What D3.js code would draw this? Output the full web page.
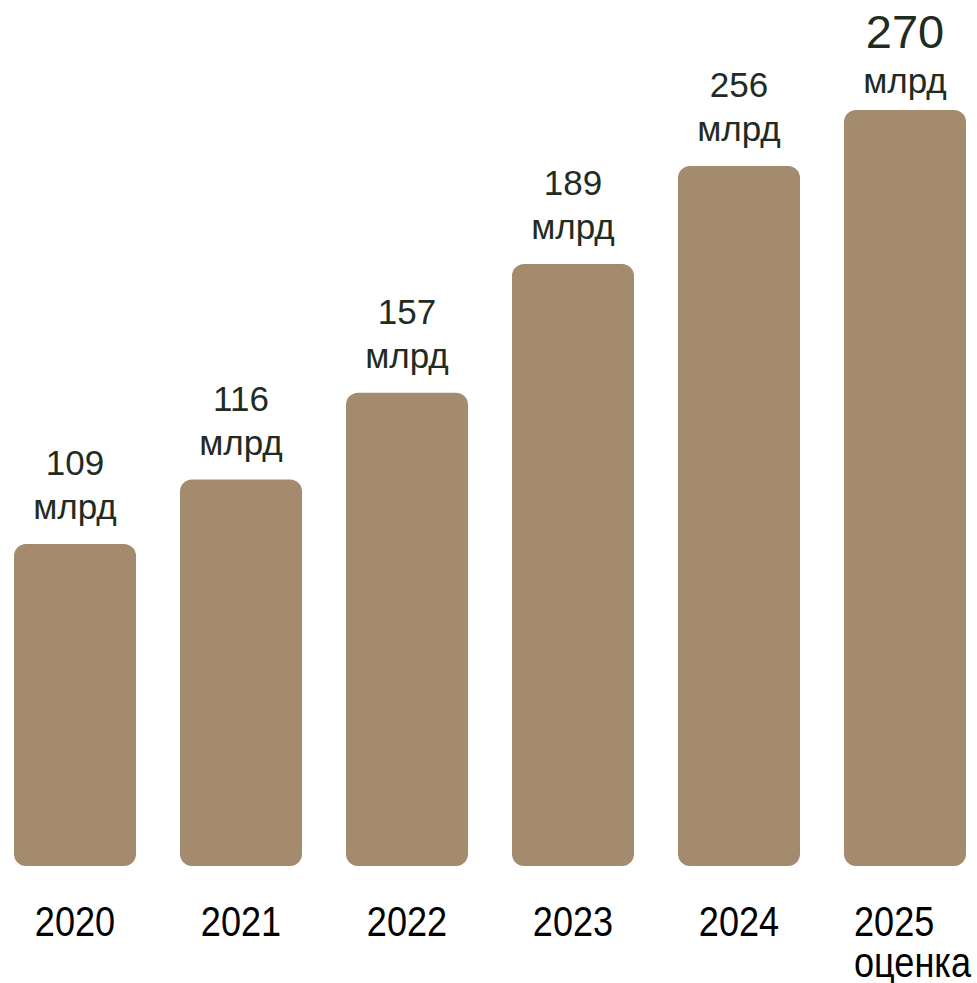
<!DOCTYPE html>
<html>
<head>
<meta charset="utf-8">
<script src="https://cdn.jsdelivr.net/npm/d3@7"></script>
<style>
  html, body { margin: 0; padding: 0; background: #fff; }
  svg { display: block; }
</style>
</head>
<body>
<svg width="977" height="983"></svg>
<script>
var years = ['2020', '2021', '2022', '2023', '2024', '2025'];
var subLabels = ['', '', '', '', '', 'оценка'];
var values = [109, 116, 157, 189, 256, 270];
// bar lengths as drawn in the source infographic (same units as values, not strictly proportional)
var barLength = [115, 138, 169, 215, 250, 270];
var unit = 'млрд';

var svg = d3.select('svg');
var width = +svg.attr('width');
var height = +svg.attr('height');

var baseline = 866;

var xScale = d3.scaleBand()
  .domain(years)
  .range([14, 966])
  .paddingInner(0.265)
  .paddingOuter(0);

var yScale = d3.scaleLinear()
  .domain([0, 270])
  .range([baseline, 110]);

var data = years.map(function(y, i) {
  return { year: y, sub: subLabels[i], value: values[i], len: barLength[i], last: i == years.length - 1 };
});

var chart = svg.append('g').attr('class', 'chart');

chart.selectAll('rect.bar')
  .data(data)
  .enter()
  .append('rect')
  .attr('class', 'bar')
  .attr('x', function(d) { return xScale(d.year); })
  .attr('y', function(d) { return yScale(d.len); })
  .attr('width', xScale.bandwidth())
  .attr('height', function(d) { return baseline - yScale(d.len); })
  .attr('rx', 12)
  .attr('ry', 12)
  .attr('fill', '#a48b6e');

var labels = chart.selectAll('g.label')
  .data(data)
  .enter()
  .append('g')
  .attr('class', 'label')
  .attr('transform', function(d) {
    return 'translate(' + (xScale(d.year) + xScale.bandwidth() / 2) + ',' + yScale(d.len) + ')';
  })
  .style('font-family', 'Arial, "Liberation Sans", sans-serif')
  .attr('fill', '#1f2c1f')
  .attr('text-anchor', 'middle');

labels.append('text')
  .attr('y', function(d) { return d.last ? -62 : -69; })
  .style('font-size', function(d) { return d.last ? '47px' : '35px'; })
  .text(function(d) { return d.value; });

labels.append('text')
  .attr('y', function(d) { return d.last ? -17 : -25; })
  .style('font-size', '35px')
  .text(unit);

// year labels: narrow look, Arial squeezed horizontally
var axis = chart.selectAll('g.year')
  .data(data)
  .enter()
  .append('g')
  .attr('class', 'year')
  .attr('transform', function(d) {
    var cx = xScale(d.year) + xScale.bandwidth() / 2;
    return 'translate(' + (d.last ? cx - 51 : cx) + ',0) scale(0.84,1)';
  })
  .style('font-family', 'Arial, "Liberation Sans", sans-serif')
  .style('font-size', '43px')
  .attr('fill', '#000');

axis.append('text')
  .attr('y', 936)
  .attr('text-anchor', function(d) { return d.last ? 'start' : 'middle'; })
  .text(function(d) { return d.year; });

axis.append('text')
  .attr('y', 977)
  .attr('text-anchor', 'start')
  .text(function(d) { return d.sub; });
</script>
</body>
</html>
